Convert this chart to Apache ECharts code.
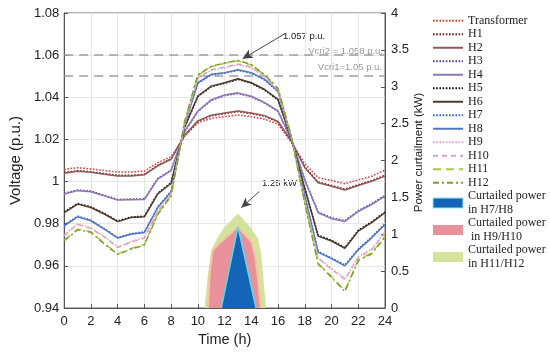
<!DOCTYPE html>
<html><head><meta charset="utf-8">
<script src="https://cdn.jsdelivr.net/npm/echarts@6/dist/echarts.min.js"></script>
<style>html,body{margin:0;padding:0;background:#fff}#c{width:550px;height:353px}</style>
</head><body><div id="c"></div>
<script>
const hours = [0,1,2,3,4,5,6,7,8,9,10,11,12,13,14,15,16,17,18,19,20,21,22,23,24];
const xTicks = [0,2,4,6,8,10,12,14,16,18,20,22,24];
const vTicks = [0.94,0.96,0.98,1,1.02,1.04,1.06,1.08];
const pTicks = [0,0.5,1,1.5,2,2.5,3,3.5,4];

const vTransformer = [1.0058,1.0066,1.0060,1.0052,1.0045,1.0045,1.0050,1.0090,1.0118,1.0215,1.0278,1.0300,1.0308,1.0316,1.0308,1.0296,1.0272,1.0185,1.0085,1.0018,1.0005,0.9990,1.0008,1.0025,1.0054];
const vH1 = [1.0043,1.0052,1.0047,1.0038,1.0030,1.0030,1.0035,1.0078,1.0108,1.0218,1.0285,1.0312,1.0322,1.0332,1.0322,1.0310,1.0282,1.0190,1.0070,0.9998,0.9982,0.9964,0.9985,1.0005,1.0030];
const vH2 = [1.0040,1.0049,1.0044,1.0035,1.0027,1.0027,1.0032,1.0075,1.0106,1.0220,1.0288,1.0315,1.0325,1.0335,1.0325,1.0313,1.0285,1.0192,1.0066,0.9994,0.9978,0.9960,0.9981,1.0001,1.0026];
const vH3 = [0.9944,0.9960,0.9955,0.9935,0.9915,0.9917,0.9918,1.0015,1.0055,1.0235,1.0332,1.0385,1.0408,1.0418,1.0402,1.0372,1.0332,1.0195,1.0010,0.9856,0.9828,0.9815,0.9862,0.9895,0.9935];
const vH4 = [0.9941,0.9957,0.9952,0.9932,0.9912,0.9914,0.9915,1.0012,1.0052,1.0237,1.0335,1.0388,1.0411,1.0421,1.0405,1.0375,1.0335,1.0197,1.0006,0.9852,0.9824,0.9811,0.9858,0.9891,0.9931];
const vH5 = [0.9856,0.9896,0.9880,0.9849,0.9813,0.9832,0.9836,0.9945,0.9995,1.0255,1.0403,1.0450,1.0466,1.0485,1.0466,1.0434,1.0387,1.0200,0.9970,0.9745,0.9722,0.9687,0.9769,0.9809,0.9856];
const vH6 = [0.9853,0.9893,0.9877,0.9846,0.9810,0.9829,0.9833,0.9942,0.9992,1.0257,1.0406,1.0453,1.0469,1.0488,1.0469,1.0437,1.0390,1.0202,0.9966,0.9741,0.9718,0.9683,0.9765,0.9805,0.9852];
const vH7 = [0.9793,0.9836,0.9817,0.9777,0.9735,0.9753,0.9761,0.9880,0.9955,1.0265,1.0466,1.0506,1.0514,1.0528,1.0514,1.0482,1.0426,1.0205,0.9935,0.9668,0.9638,0.9604,0.9680,0.9737,0.9800];
const vH8 = [0.9790,0.9833,0.9814,0.9774,0.9732,0.9750,0.9758,0.9877,0.9952,1.0267,1.0469,1.0509,1.0517,1.0531,1.0517,1.0485,1.0429,1.0207,0.9931,0.9664,0.9634,0.9600,0.9676,0.9733,0.9796];
const vH9 = [0.9745,0.9800,0.9780,0.9740,0.9690,0.9715,0.9735,0.9860,0.9945,1.0270,1.0490,1.0528,1.0540,1.0555,1.0540,1.0495,1.0432,1.0205,0.9910,0.9640,0.9587,0.9540,0.9643,0.9680,0.9760];
const vH10 = [0.9742,0.9797,0.9777,0.9737,0.9687,0.9712,0.9732,0.9857,0.9942,1.0272,1.0493,1.0531,1.0543,1.0558,1.0543,1.0498,1.0435,1.0207,0.9906,0.9636,0.9583,0.9536,0.9639,0.9676,0.9756];
const vH11 = [0.9722,0.9774,0.9762,0.9707,0.9657,0.9682,0.9702,0.9847,0.9935,1.0280,1.0505,1.0545,1.0561,1.0573,1.0553,1.0505,1.0440,1.0210,0.9900,0.9612,0.9550,0.9482,0.9629,0.9661,0.9739];
const vH12 = [0.9719,0.9771,0.9759,0.9704,0.9654,0.9679,0.9699,0.9844,0.9932,1.0282,1.0507,1.0547,1.0563,1.0575,1.0555,1.0507,1.0442,1.0212,0.9896,0.9608,0.9546,0.9478,0.9625,0.9657,0.9735];

const curtH1112X = [10.5,10.75,11,11.5,12,12.5,13,13.5,14,14.5,14.75,14.95,15.1];
const curtH1112Y = [0,0.45,0.78,0.97,1.10,1.19,1.28,1.18,1.08,0.94,0.72,0.30,0];
const curtH910X = [10.75,10.9,11.1,11.5,12,12.5,13,13.5,14,14.3,14.5,14.7];
const curtH910Y = [0,0.50,0.78,0.86,0.94,1.02,1.10,1.00,0.90,0.70,0.40,0];
const curtH78X = [11.75,13,14.35];
const curtH78Y = [0,1.10,0];

const vcri1 = 1.05, vcri2 = 1.058, vPeak = 1.057;

const names = ['Transformer','H1','H2','H3','H4','H5','H6','H7','H8','H9','H10','H11','H12'];
const vals = [vTransformer,vH1,vH2,vH3,vH4,vH5,vH6,vH7,vH8,vH9,vH10,vH11,vH12];
const styles = [
  {c:'#e0403c', t:[1.6,1.6]},
  {c:'#7a1c22', t:[1.6,1.6]},
  {c:'#8f5a5a', t:'solid'},
  {c:'#5a3ca0', t:[1.6,1.6]},
  {c:'#8a78b8', t:'solid'},
  {c:'#111111', t:[1.6,1.6]},
  {c:'#4e3a2c', t:'solid'},
  {c:'#2f5fd0', t:[1.6,1.6]},
  {c:'#5474c4', t:'solid'},
  {c:'#eaa0c8', t:[1.6,1.6]},
  {c:'#d8a8b8', t:[5,4]},
  {c:'#a8c848', t:[8,5]},
  {c:'#7f9f32', t:[6,3,2,3]}
];

const series = [];
series.push({name:'Curtailed power\nin H11/H12', type:'line', xAxisIndex:0, yAxisIndex:1, symbol:'none', color:'#d3e39c',
  lineStyle:{width:0}, areaStyle:{color:'#d3e39c', opacity:1}, z:1,
  data: curtH1112X.map((x,i)=>[x,curtH1112Y[i]])});
series.push({name:'Curtailed power\n in H9/H10', type:'line', xAxisIndex:0, yAxisIndex:1, symbol:'none', color:'#e8919b',
  lineStyle:{width:2, color:'#f2c6a0'}, areaStyle:{color:'#e8919b', opacity:1}, z:2,
  data: curtH910X.map((x,i)=>[x,curtH910Y[i]])});
series.push({name:'Curtailed power\nin H7/H8', type:'line', xAxisIndex:0, yAxisIndex:1, symbol:'none', color:'#1464b8',
  lineStyle:{width:1.5, color:'#5fd8e8'}, areaStyle:{color:'#1464b8', opacity:1}, z:3,
  data: curtH78X.map((x,i)=>[x,curtH78Y[i]]),
  markLine:{silent:true, symbol:['none','arrow'], symbolSize:[7,10], label:{show:false},
    lineStyle:{color:'#444', type:'solid', width:1},
    data:[[{coord:[14.6,1.58]},{coord:[13.25,1.36]}]]}
});

names.forEach((n,i)=>{
  const s = {name:n, type:'line', symbol:'none', color:styles[i].c, z:5+i,
    lineStyle:{color:styles[i].c, type:styles[i].t, width:1.5},
    data: hours.map((h,k)=>[h, vals[i][k]])};
  if(i===0){
    s.markLine = {silent:true, symbol:'none', label:{show:false},
      lineStyle:{color:'#a0a0a0', type:[9,6], width:1.6},
      data:[{yAxis:vcri2},{yAxis:vcri1}]};
  }
  if(i===1){
    s.markLine = {silent:true, symbol:['none','arrow'], symbolSize:[7,10], label:{show:false},
      lineStyle:{color:'#444', type:'solid', width:1},
      data:[[{coord:[16.6,1.0705]},{coord:[13.35,vPeak+0.0013]}]]};
  }
  series.push(s);
});

const legendData = names.map(n=>({name:n, itemStyle:{opacity:0}}));
legendData.push({name:'Curtailed power\nin H7/H8', icon:'rect', itemStyle:{opacity:1, borderColor:'#8ee8f0', borderWidth:1}});
legendData.push({name:'Curtailed power\n in H9/H10', icon:'rect', itemStyle:{opacity:1}});
legendData.push({name:'Curtailed power\nin H11/H12', icon:'rect', itemStyle:{opacity:1}});

const sans = 'Liberation Sans';
const chart = echarts.init(document.getElementById('c'), null, {renderer:'canvas'});
chart.setOption({
  animation:false,
  backgroundColor:'#fff',
  grid:{left:52, right:165, top:13, bottom:45, show:true, borderColor:'#666', borderWidth:1, containLabel:false},
  xAxis:{type:'value', min:0, max:24, interval:2, name:'Time (h)', nameLocation:'middle', nameGap:24,
    nameTextStyle:{fontFamily:sans, fontSize:14.5, color:'#222'},
    axisLine:{lineStyle:{color:'#555'}}, axisTick:{inside:true, length:4, lineStyle:{color:'#555'}},
    axisLabel:{fontFamily:sans, fontSize:13, color:'#222', margin:7},
    splitLine:{show:true, lineStyle:{color:'#e6e6e6'}}},
  yAxis:[
    {type:'value', min:0.94, max:1.08, interval:0.02, name:'Voltage (p.u.)', nameLocation:'middle', nameGap:29, nameRotate:90,
      nameTextStyle:{fontFamily:sans, fontSize:15, color:'#222'},
      axisLine:{show:true, lineStyle:{color:'#555'}}, axisTick:{show:true, inside:true, length:4, lineStyle:{color:'#555'}},
      axisLabel:{fontFamily:sans, fontSize:13, color:'#222', margin:5,
        formatter:v=>Math.abs(v-1)<1e-9?'1':v.toFixed(2)},
      splitLine:{show:true, lineStyle:{color:'#e6e6e6'}}},
    {type:'value', min:0, max:4, interval:0.5, position:'right', name:'Power curtailment (kW)', nameLocation:'middle', nameGap:28, nameRotate:90,
      nameMoveOverlap:false,
      nameTextStyle:{fontFamily:sans, fontSize:11.5, color:'#222', padding:[0,0,0,16]},
      axisLine:{show:true, lineStyle:{color:'#555'}}, axisTick:{show:true, inside:true, length:4, lineStyle:{color:'#555'}},
      axisLabel:{fontFamily:sans, fontSize:13, color:'#222', margin:6},
      splitLine:{show:false}}
  ],
  legend:{orient:'vertical', left:427, top:9, itemWidth:30, itemHeight:10, itemGap:0,
    textStyle:{fontFamily:'Liberation Serif', fontSize:12, color:'#222', lineHeight:13.5},
    data:legendData},
  graphic:[
    {type:'text', left:283, top:31, style:{text:'1.057 p.u.', font:'9.5px Liberation Sans', fill:'#222'}},
    {type:'text', right:167, top:46, style:{text:'Vcri2 = 1.058 p.u.', font:'9.5px Liberation Sans', fill:'#999'}},
    {type:'text', right:168, top:62, style:{text:'Vcri1=1.05 p.u.', font:'9.5px Liberation Sans', fill:'#999'}},
    {type:'text', left:262, top:178, style:{text:'1.25 kW', font:'9.5px Liberation Sans', fill:'#222'}}
  ],
  series:series
});
</script></body></html>
